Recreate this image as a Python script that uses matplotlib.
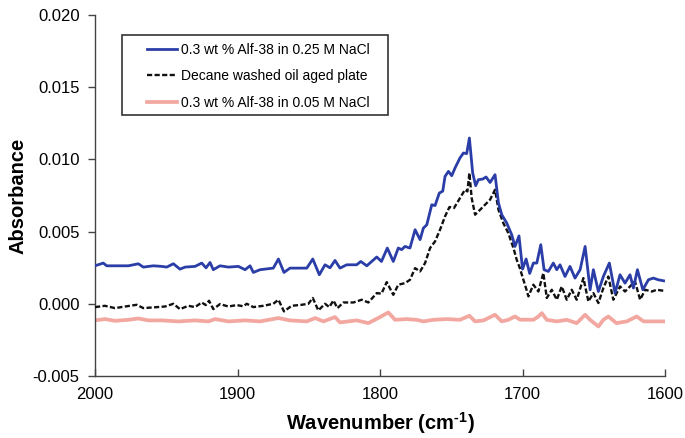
import numpy as np
import matplotlib
matplotlib.use("Agg")
import matplotlib.pyplot as plt
from matplotlib.patches import Rectangle

plt.rcParams['font.family'] = ['Liberation Sans', 'DejaVu Sans']
plt.rcParams['mathtext.fontset'] = 'custom'
plt.rcParams['mathtext.rm'] = 'Liberation Sans'
plt.rcParams['mathtext.bf'] = 'Liberation Sans:bold'

# -----------------------------
# DATA
# -----------------------------
wn_blue = [2000, 1994.2, 1991.8, 1986, 1976.6, 1969.6, 1966.1, 1959.1, 1953.2, 1949.7,
           1945.0, 1940.4, 1936.8, 1929.8, 1925.1, 1922.1, 1919.3, 1917, 1912.3, 1906.4,
           1899.4, 1894.7, 1891.2, 1888.9, 1884.2, 1874.9, 1871.3, 1867.4, 1863.2, 1851.4,
           1847.2, 1842.6, 1838.6, 1835.1, 1831.6, 1828.1, 1823.4, 1816.4, 1813.5, 1809.3,
           1802.3, 1799, 1794.9, 1790.7, 1787.2, 1784.8, 1782.5, 1779, 1775.4, 1771.9,
           1769.6, 1767.2, 1763.7, 1761.4, 1758.4, 1756, 1754.4, 1752, 1749.7, 1747.4,
           1743.9, 1741.5, 1739.2, 1737.3, 1735, 1732.9, 1731, 1727.9, 1725.6, 1722.8,
           1719.3, 1716.9, 1714.6, 1711.1, 1707.6, 1705.3, 1702.5, 1700, 1697.5, 1695,
           1692.4, 1690.0, 1687.2, 1684.9, 1681.9, 1678.4, 1676.0, 1673.7, 1670.2, 1666.7,
           1663.2, 1659.6, 1656.1, 1652.6, 1650.3, 1646.8, 1643.3, 1639.1, 1635.1, 1631.6,
           1628.1, 1624.6, 1622.2, 1619.4, 1615.6, 1611.7, 1608.2, 1604.7, 1601]
abs_blue = [0.00263, 0.00282, 0.00263, 0.00263, 0.00263, 0.00277, 0.00254, 0.00263, 0.00259, 0.00254,
            0.00277, 0.00240, 0.00254, 0.00259, 0.00282, 0.00249, 0.00286, 0.00236, 0.00263, 0.00254,
            0.00259, 0.00236, 0.00263, 0.00217, 0.00236, 0.00247, 0.00310, 0.00217, 0.00247, 0.00247,
            0.00310, 0.00201, 0.00270, 0.00249, 0.00300, 0.00247, 0.00270, 0.00270, 0.00293, 0.00263,
            0.00324, 0.00293, 0.00386, 0.00293, 0.00386, 0.00375, 0.00397, 0.00386, 0.00513, 0.00444,
            0.00524, 0.00547, 0.00686, 0.00680, 0.00767, 0.00780, 0.00882, 0.00917, 0.00887, 0.00940,
            0.01010, 0.01044, 0.01040, 0.01148, 0.00906, 0.00818, 0.00859, 0.00864, 0.00878, 0.00840,
            0.00894, 0.00698, 0.00617, 0.00559, 0.00478, 0.00397, 0.00470, 0.00240, 0.00310, 0.00210,
            0.00282, 0.00282, 0.00409, 0.00236, 0.00224, 0.00282, 0.00236, 0.00270, 0.00189, 0.00259,
            0.00178, 0.00236, 0.00397, 0.00097, 0.00236, 0.00085, 0.00189, 0.00282, 0.00074, 0.00201,
            0.00143, 0.00201, 0.00109, 0.00236, 0.00097, 0.00166, 0.00178, 0.00166, 0.00159]

wn_black = [2000, 1993, 1986, 1978.9, 1970.7, 1966.1, 1959.1, 1950.9, 1945.0, 1940.4,
            1934.5, 1929.8, 1925.1, 1922.3, 1920, 1917, 1912.3, 1906.4, 1900.6, 1896,
            1893.5, 1888.9, 1881.9, 1874.9, 1871.3, 1867.4, 1862.0, 1855, 1850.3, 1847.2,
            1843.3, 1838.6, 1835.6, 1832.7, 1829.9, 1825.7, 1818.7, 1812.8, 1808.2, 1802.3,
            1799, 1795.3, 1790.7, 1787.2, 1782.5, 1779, 1775.4, 1771.9, 1768.4, 1764.9,
            1761.4, 1757.9, 1754.4, 1751.3, 1748.1, 1743.9, 1740.4, 1738.7, 1737.3, 1735.7,
            1733.3, 1729.8, 1726.3, 1722.8, 1719.3, 1716.9, 1713.5, 1710, 1706.4, 1704.1,
            1702, 1699.4, 1697, 1695.9, 1692.4, 1688.9, 1685.4, 1683.0, 1679.5, 1676,
            1672.5, 1669, 1665.5, 1662, 1657.3, 1653.8, 1650.3, 1646.8, 1643.3, 1639.8,
            1636.3, 1631.6, 1628.1, 1624.6, 1621.1, 1617.5, 1614, 1609.3, 1605.8, 1601]
abs_black = [-0.00023, -0.00014, -0.00030, -0.00019, -0.00007, -0.00030, -0.00025, -0.00019, 0.00000, -0.00037,
             -0.00014, -0.00023, 0.00009, -0.00009, 0.00021, -0.00037, -0.00002, -0.00019, -0.00009, -0.00017,
             0.00000, -0.00023, -0.00014, 0.00000, 0.00028, -0.00053, -0.00014, -0.00007, 0.00000, 0.00040,
             -0.00046, 0.00000, -0.00023, 0.00023, -0.00030, 0.00009, 0.00009, 0.00028, 0.00009, 0.00074,
             0.00070, 0.00150, 0.00062, 0.00132, 0.00143, 0.00166, 0.00247, 0.00224, 0.00282, 0.00386,
             0.00432, 0.00513, 0.00605, 0.00670, 0.00663, 0.00732, 0.00790, 0.00778, 0.00906, 0.00732,
             0.00617, 0.00651, 0.00686, 0.00721, 0.00790, 0.00651, 0.00559, 0.00490, 0.00386, 0.00305,
             0.00250, 0.00166, 0.00090, 0.00051, 0.00132, 0.00085, 0.00213, 0.00040, 0.00097, 0.00028,
             0.00120, 0.00028, 0.00097, 0.00028, 0.00178, 0.00016, 0.00074, 0.00005, 0.00109, 0.00189,
             0.00028, 0.00120, 0.00085, 0.00120, 0.00155, 0.00028, 0.00097, 0.00085, 0.00097, 0.00090]

wn_red = [2000, 1993, 1986, 1976.6, 1969.6, 1962.5, 1953.2, 1941.5, 1929.8, 1920.4,
          1915.8, 1906.4, 1894.7, 1884.2, 1871.3, 1863.2, 1851.4, 1845.5, 1839.7, 1831.6,
          1828.1, 1816.4, 1808.2, 1800, 1794.2, 1789.5, 1781.4, 1774.3, 1769.6, 1762.6,
          1753.2, 1743.9, 1737.3, 1733.3, 1727.4, 1719.3, 1714.6, 1710, 1705.3, 1701.8,
          1698.2, 1692.4, 1688.9, 1686.5, 1683, 1676, 1669, 1662, 1656.1, 1652.6,
          1646.8, 1643.3, 1639.8, 1634.1, 1626.9, 1619.9, 1615.1, 1608.2, 1601]
abs_red = [-0.00115, -0.00106, -0.00118, -0.00111, -0.00102, -0.00115, -0.00115, -0.00122, -0.00115, -0.00122,
           -0.00106, -0.00122, -0.00115, -0.00122, -0.00099, -0.00115, -0.00122, -0.00099, -0.00122, -0.00092,
           -0.00129, -0.00115, -0.00134, -0.00092, -0.00060, -0.00111, -0.00106, -0.00111, -0.00122, -0.00111,
           -0.00106, -0.00111, -0.00083, -0.00122, -0.00115, -0.00076, -0.00122, -0.00111, -0.00088, -0.00110,
           -0.00110, -0.00111, -0.00088, -0.00065, -0.00111, -0.00122, -0.00111, -0.00134, -0.00076, -0.00111,
           -0.00157, -0.00111, -0.00088, -0.00134, -0.00122, -0.00088, -0.00122, -0.00122, -0.00122]

labels = ["0.3 wt % Alf-38 in 0.25 M NaCl",
          "Decane washed oil aged plate",
          "0.3 wt % Alf-38 in 0.05 M NaCl"]

x_ticks = [2000, 1900, 1800, 1700, 1600]
y_ticks = [-0.005, 0.000, 0.005, 0.010, 0.015, 0.020]

# -----------------------------
# PLOT
# -----------------------------
fig = plt.figure(figsize=(6.85, 4.38), dpi=100)
ax = fig.add_axes([0.1387, 0.1416, 0.8322, 0.8242])

ax.plot(wn_red, abs_red, color="#F2A8A0", linewidth=2.7, label=labels[2], zorder=2)
ax.plot(wn_black, abs_black, color="#111111", linewidth=1.7,
        linestyle=(0, (2.2, 1.0)), label=labels[1], zorder=3)
ax.plot(wn_blue, abs_blue, color="#2B3EA8", linewidth=2.0, label=labels[0], zorder=4)

ax.set_xlim(2000, 1600)
ax.set_ylim(-0.005, 0.020)
ax.set_xticks(x_ticks)
ax.set_xticklabels([str(t) for t in x_ticks])
ax.set_yticks(y_ticks)
ax.set_yticklabels(["%.3f" % t for t in y_ticks])

ax.tick_params(axis="y", direction="out", length=5, width=1, color="#444444",
               labelsize=12, pad=6)
ax.tick_params(axis="x", direction="in", length=5, width=1, color="#444444",
               labelsize=12, pad=8)

for s in ["top", "right"]:
    ax.spines[s].set_visible(False)
for s in ["left", "bottom"]:
    ax.spines[s].set_color("#444444")
    ax.spines[s].set_linewidth(1)

ax.set_xlabel("Wavenumber (cm$^{\\mathbf{\u2010}\\mathbf{1}}$)", fontsize=14.5,
              fontweight="bold", labelpad=6)
ax.set_ylabel("Absorbance", fontsize=14.5, fontweight="bold", labelpad=4)

# legend box drawn by hand, legend itself without frame
ax.add_patch(Rectangle((0.047, 0.723), 0.467, 0.222, transform=ax.transAxes,
                       fill=False, edgecolor="#333333", linewidth=1.2, zorder=5))
handles, labs = ax.get_legend_handles_labels()
order = [2, 1, 0]
ax.legend([handles[i] for i in order], [labs[i] for i in order],
          loc="upper left", bbox_to_anchor=(0.091, 0.922), frameon=False,
          fontsize=10, handlelength=2.2, handletextpad=0.25, labelspacing=0.88,
          borderpad=0, borderaxespad=0)

plt.savefig("out.png", dpi=100)
